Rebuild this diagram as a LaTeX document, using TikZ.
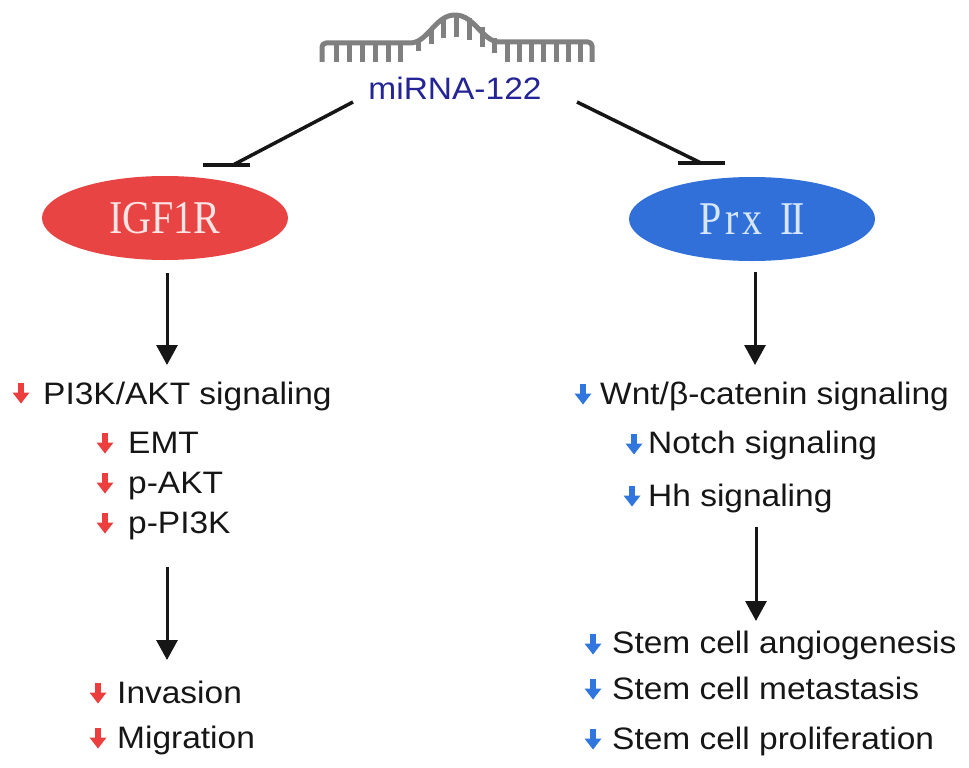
\documentclass[tikz,border=0pt]{standalone}
\usepackage{fontspec}
\setmainfont{Liberation Serif}
\setsansfont[FakeStretch=1.08]{Liberation Sans}
\newfontfamily\ellfont[FakeStretch=0.85]{Liberation Serif}
\usetikzlibrary{arrows.meta,shapes.geometric}
\definecolor{ired}{RGB}{232,68,68}
\definecolor{iredtxt}{RGB}{252,228,228}
\definecolor{pblue}{RGB}{48,112,216}
\definecolor{pbluetxt}{RGB}{215,230,252}
\definecolor{sred}{RGB}{236,62,62}
\definecolor{sblue}{RGB}{48,118,222}
\definecolor{mirblue}{RGB}{36,36,150}
\definecolor{rnagray}{RGB}{128,128,128}
\definecolor{ink}{RGB}{22,22,22}
\tikzset{
  ell/.style={ellipse, minimum width=246pt, minimum height=84pt, inner sep=0pt,
    font=\ellfont\fontsize{47}{50}\selectfont},
  item/.style={anchor=base west, inner sep=0pt, text=ink,
    font=\sffamily\fontsize{31}{36}\selectfont},
  arr/.style={draw=ink, line width=3pt, -{Triangle[width=21pt,length=20pt]}},
  inh/.style={draw=ink, line width=3.5pt},
  darr/.pic={
    \fill (-2.8,-10.5) rectangle (2.8,0.5);
    \fill (-8.5,-0.5) -- (8.5,-0.5) -- (0,10.5) -- cycle;
  },
  rna/.style={draw=rnagray, line width=5pt}
}
\begin{document}
\begin{tikzpicture}[x=1pt,y=-1pt]
\useasboundingbox (0,0) rectangle (969,768);
\fill[white] (0,0) rectangle (969,768);

% miRNA icon
\draw[rna, line join=round]
  (322,62) -- (322,47) arc[start angle=180, end angle=90, radius=4pt] -- (410,43)
  .. controls (428,43) and (435,15) .. (455,15)
  .. controls (475,15) and (482,42) .. (500,42)
  -- (588,42) arc[start angle=90, end angle=0, radius=4pt] -- (592,62);
\foreach \x in {336,349,362,375,388,400} \draw[rna] (\x,43) -- (\x,62);
\foreach \x in {507,519,531,543,556,568,580} \draw[rna] (\x,42) -- (\x,62);
\draw[rna] (418,40) -- (418,51);
\draw[rna] (431,28) -- (431,44);
\draw[rna] (443,19) -- (443,38);
\draw[rna] (456,16) -- (456,37);
\draw[rna] (469,18) -- (469,40);
\draw[rna] (482,27) -- (482,47);
\draw[rna] (494,38) -- (494,53);

\node (mir) [inner sep=0pt, text=mirblue, font=\sffamily\fontsize{31}{36}\selectfont]
  at (455,88) {miRNA-122};

% ellipses
\node (igf) [ell, fill=ired, text=iredtxt] at (165,218) {IGF1R};
\node (prx) [ell, fill=pblue, text=pbluetxt] at (752,219)
  {P\kern4pt r\kern4pt x\kern18pt I\kern-3pt I};

% inhibition connectors
\coordinate (il0) at (353,102);
\coordinate (il1) at (233,165);
\coordinate (ir0) at (577,102);
\coordinate (ir1) at (701,163);
\draw[inh] (il0) -- (il1);
\draw[inh] ([xshift=-30pt]il1) -- ([xshift=17pt]il1);
\draw[inh] (ir0) -- (ir1);
\draw[inh] ([xshift=-23pt]ir1) -- ([xshift=24pt]ir1);

% left column
\node (pi3k) [item] at (43,404) {PI3K/AKT signaling};
\node (emt)  [item] at (128,453) {EMT};
\node (pakt) [item] at (128,493) {p-AKT};
\node (ppi)  [item] at (128,533) {p-PI3K};
\node (inv)  [item] at (117,703) {Invasion};
\node (mig)  [item] at (117,748) {Migration};
\pic[sred] at (21,393) {darr};
\pic[sred] at (105,443) {darr};
\pic[sred] at (105,483) {darr};
\pic[sred] at (105,523) {darr};
\pic[sred] at (98,693) {darr};
\pic[sred] at (98,738) {darr};

% right column
\node (wnt)   [item] at (600,404) {Wnt/β-catenin signaling};
\node (notch) [item] at (648,453) {Notch signaling};
\node (hh)    [item] at (648,506) {Hh signaling};
\node (ang)   [item] at (612,653) {Stem cell angiogenesis};
\node (met)   [item] at (612,699) {Stem cell metastasis};
\node (pro)   [item] at (612,749) {Stem cell proliferation};
\pic[sblue] at (583,394) {darr};
\pic[sblue] at (634,444) {darr};
\pic[sblue] at (632,496) {darr};
\pic[sblue] at (593,644) {darr};
\pic[sblue] at (593,689) {darr};
\pic[sblue] at (593,739) {darr};

% arrows
\coordinate (la0) at (167,273);
\coordinate (la1) at (167,365);
\coordinate (lb0) at (167,567);
\coordinate (lb1) at (167,660);
\coordinate (ra0) at (755,272);
\coordinate (ra1) at (755,365);
\coordinate (rb0) at (756,527);
\coordinate (rb1) at (756,621);
\draw[arr] (la0) -- (la1);
\draw[arr] (lb0) -- (lb1);
\draw[arr] (ra0) -- (ra1);
\draw[arr] (rb0) -- (rb1);
\end{tikzpicture}
\end{document}
